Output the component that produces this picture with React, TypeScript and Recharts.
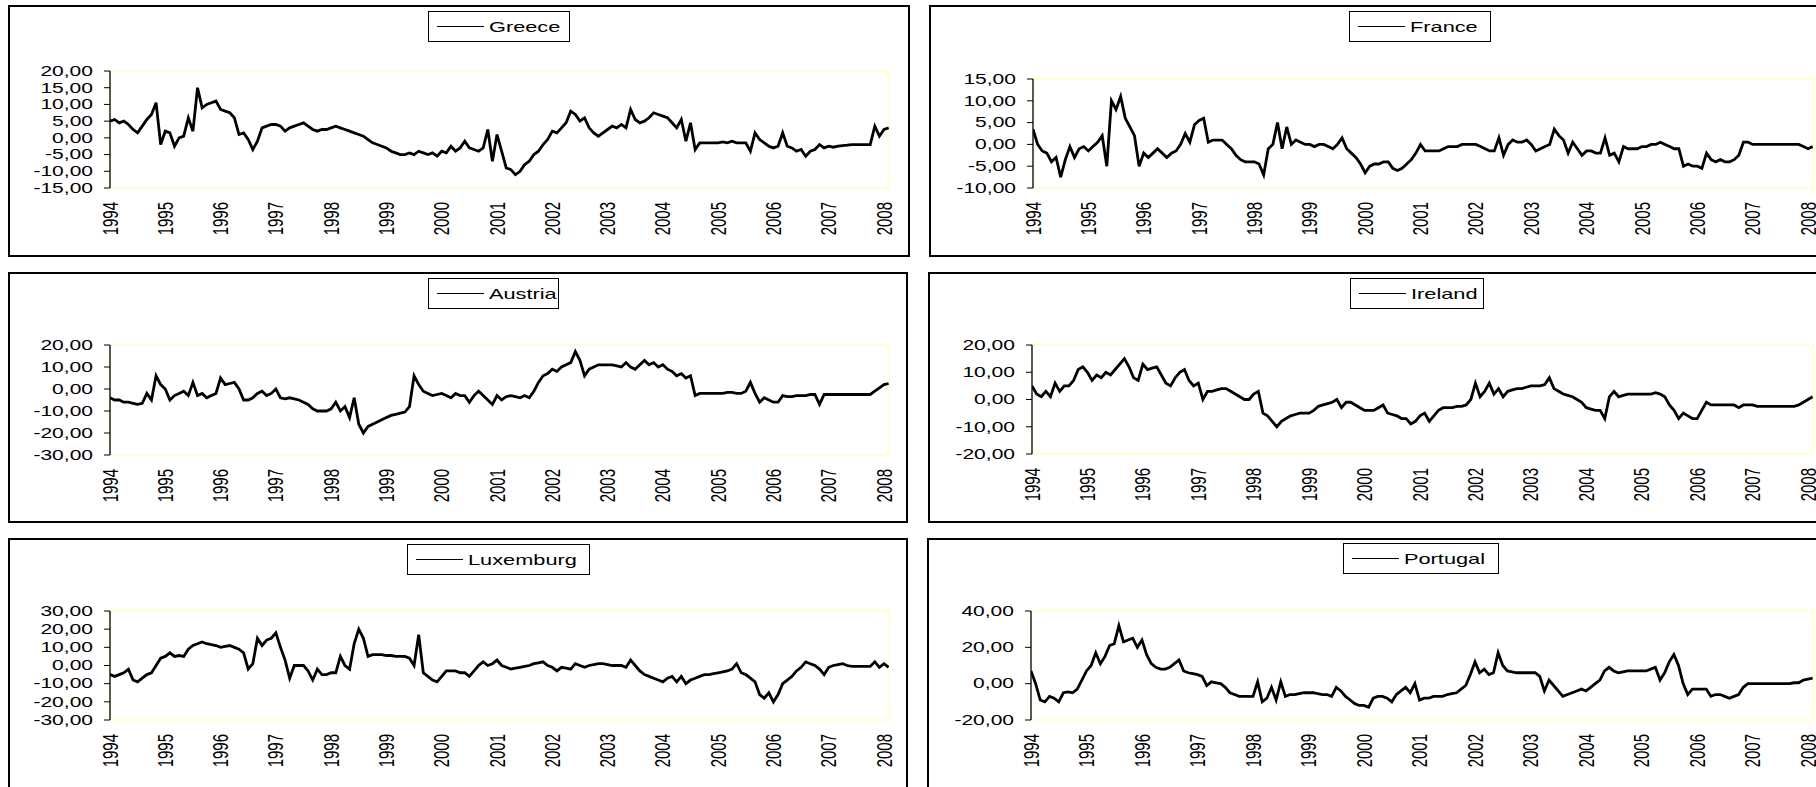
import { LineChart, Line, XAxis, YAxis, ReferenceArea, Legend } from "recharts";

const FONT = "'Liberation Sans', Arial, sans-serif";
// the source picture is stretched sideways, so its text is too
const STRETCH = 1.45;
const START_YEAR = 1994;
const X_END = 2008.09;

const yearTicks = [1994, 1995, 1996, 1997, 1998, 1999, 2000, 2001, 2002, 2003, 2004, 2005, 2006, 2007, 2008];

// monthly readings, Jan 1994 .. Feb 2008
const greece = [
  5, 5.5, 4.5, 5, 4, 2.5, 1.5, 3.5, 5.5, 7, 10.5, -2,
  2, 1.5, -2.5, 0, 0.5, 6, 2, 15, 9, 10, 10.5, 11,
  8.5, 8, 7.5, 6, 1, 1.5, -0.5, -3.5, -1, 3, 3.5, 4,
  4, 3.5, 2, 3, 3.5, 4, 4.5, 3.5, 2.5, 2, 2.5, 2.5,
  3, 3.5, 3, 2.5, 2, 1.5, 1, 0.5, -0.5, -1.5, -2, -2.5,
  -3, -4, -4.5, -5, -5, -4.5, -5, -4, -4.5, -5, -4.5, -5.5,
  -4, -4.5, -2.5, -4, -3, -1, -3, -3.5, -4, -3, 2.5, -7,
  1, -4, -9, -9.5, -11, -10, -8, -7, -5, -4, -2, -0.5,
  2, 1.5, 3, 4.5, 8, 7, 5, 6, 3, 1.5, 0.5, 1.5,
  2.5, 3.5, 3, 4, 3, 8.5, 5.5, 4.5, 5, 6, 7.5, 7,
  6.5, 6, 4.5, 3, 5.5, -1, 4.5, -3.5, -1.5, -1.5, -1.5, -1.5,
  -1.5, -1.2, -1.5, -1, -1.5, -1.5, -1.5, -4, 1.5, -0.5, -1.5, -2.5,
  -3, -2.5, 1.5, -2.5, -3, -4, -3.5, -5.5, -4, -3.5, -2, -3,
  -2.5, -2.8, -2.5, -2.3, -2.2, -2, -2, -2, -2, -2, 3.5, 0.5,
  2.5, 3,
];

const france = [
  3.5, 0, -1.5, -2, -4, -3, -7.5, -3.5, -0.5, -3, -1, -0.5,
  -1.5, -0.5, 0.5, 2, -5, 10, 8, 11, 6, 4, 2, -5,
  -2, -3, -2, -1, -2, -3, -2, -1.5, 0, 2.5, 0.5, 4.5,
  5.5, 6, 0.5, 1, 1, 1, 0, -1, -2.5, -3.5, -4, -4,
  -4, -4.5, -7, -1, 0, 5, -1, 4, 0, 1, 0.5, 0,
  0, -0.5, 0, 0, -0.5, -1, 0, 1.5, -1, -2, -3, -4.5,
  -6.5, -5, -4.5, -4.5, -4, -4, -5.5, -6, -5.5, -4.5, -3.5, -2,
  0, -1.5, -1.5, -1.5, -1.5, -1, -0.5, -0.5, -0.5, 0, 0, 0,
  0, -0.5, -1, -1.5, -1.5, 1.5, -2.5, 0, 1, 0.5, 0.5, 1,
  0, -1.5, -1, -0.5, 0, 3.5, 2, 1, -2, 0.5, -1, -2.5,
  -1.5, -1.5, -2, -2, 1.5, -2.5, -2, -4, -0.5, -1, -1, -1,
  -0.5, -0.5, 0, 0, 0.5, 0, -0.5, -1, -1, -5, -4.5, -5,
  -5, -5.5, -2, -3.5, -4, -3.5, -4, -4, -3.5, -2.5, 0.5, 0.5,
  0, 0, 0, 0, 0, 0, 0, 0, 0, 0, 0, -0.5,
  -1, -0.5,
];

const austria = [
  -4, -5, -5, -6, -6, -6.5, -7, -6.5, -2, -5, 6, 2,
  0, -5, -3, -2, -1, -3, 3, -3, -2, -4, -3, -2,
  5, 2, 2.5, 3, 0, -5, -5, -4, -2, -1, -3, -2,
  0, -4, -4.5, -4, -4.5, -5, -6, -7, -9, -10, -10, -10,
  -9, -6, -10, -8, -13, -4, -16, -20, -17, -16, -15, -14,
  -13, -12, -11.5, -11, -10.5, -8, 6, 2, -1, -2, -3, -2.5,
  -2, -3, -4, -2, -3, -3, -6, -3, -1, -3, -5, -7,
  -3, -5, -3.5, -3, -3.5, -4, -3, -4, -1, 3, 6, 7,
  9, 8, 10, 11, 12, 17, 13, 6, 9, 10, 11, 11,
  11, 11, 10.5, 10, 12, 10, 9, 11, 13, 11, 12, 10,
  11, 9, 8, 6, 7, 5, 6, -3, -2, -2, -2, -2,
  -2, -2, -1.5, -1.5, -2, -2, -1, 3, -2, -6, -4, -5,
  -6, -6, -3, -3.5, -3.5, -3, -3, -3, -2.5, -2.5, -7, -2.5,
  -2.5, -2.5, -2.5, -2.5, -2.5, -2.5, -2.5, -2.5, -2.5, -2.5, -1, 0.5,
  2, 2.5,
];

const ireland = [
  5, 2, 1, 3, 1, 6, 3, 5, 5, 7, 11, 12,
  10, 7, 9, 8, 10, 9, 11, 13, 15, 12, 8, 7,
  13, 11, 11.5, 12, 9, 6, 5, 8, 10, 11, 7, 5,
  6, 0, 3, 3, 3.5, 4, 4, 3, 2, 1, 0, 0,
  2, 3, -5, -6, -8, -10, -8, -7, -6, -5.5, -5, -5,
  -5, -4, -2.5, -2, -1.5, -1, 0, -3, -1, -1, -2, -3,
  -4, -4, -4, -3, -2, -5, -5.5, -6, -7, -7, -9, -8,
  -6, -5, -8, -6, -4, -3, -3, -3, -2.5, -2.5, -2, 0,
  6, 1, 3, 6, 2, 4, 1, 3, 3.5, 4, 4, 4.5,
  5, 5, 5, 5.5, 8, 4, 3, 2, 1.5, 1, 0, -1,
  -3, -3.5, -4, -4, -7, 1, 3, 1, 1.5, 2, 2, 2,
  2, 2, 2, 2.5, 2, 1, -2, -4, -7, -5, -6, -7,
  -7, -4, -1, -2, -2, -2, -2, -2, -2, -3, -2, -2,
  -2, -2.5, -2.5, -2.5, -2.5, -2.5, -2.5, -2.5, -2.5, -2.5, -2, -1,
  0, 1,
];

const luxemburg = [
  -5, -6, -5, -4, -2, -8, -9, -7, -5, -4, 0, 4,
  5, 7, 5, 5.5, 5, 9, 11, 12, 13, 12, 11.5, 11,
  10, 10.5, 11, 10, 9, 7, -2, 1, 15, 11, 14, 15,
  18, 10, 3, -7, 0, 0, 0, -3, -8, -2, -5, -5,
  -4, -4, 5, 0, -2, 12, 20, 15, 5, 6, 6, 6,
  5.5, 5.5, 5, 5, 5, 4, 0, 17, -4, -6, -8, -9,
  -6, -3, -3, -3, -4, -4, -6, -3, 0, 2, 0, 1,
  3, 0, -1, -2, -1.5, -1, -0.5, 0, 1, 1.5, 2, 0,
  -1, -3, -1, -1.5, -2, 1, 0, -1, 0, 0.5, 1, 1,
  0.5, 0, 0, 0, -1, 3, 0, -3, -5, -6, -7, -8,
  -9, -7, -6, -9, -6, -10, -8, -7, -6, -5, -5, -4.5,
  -4, -3.5, -3, -2, 1, -4, -5, -7, -9, -16, -18, -15,
  -20, -16, -10, -8, -6, -3, -1, 2, 1, 0, -2, -5,
  -1, 0, 0.5, 1, 0, -0.5, -0.5, -0.5, -0.5, -0.5, 2, -1,
  1, -1,
];

const portugal = [
  7, 0, -9, -10, -7, -8, -10, -5, -4.5, -5, -3, 2,
  7, 10, 17, 11, 15, 21, 22, 32, 23, 24, 25, 20,
  24, 16, 11, 9, 8, 8, 9, 11, 13, 7, 6, 5.5,
  5, 4, -1, 1, 0.5, 0, -2, -5, -6, -7, -7, -7,
  -7, 1, -10, -8, -2, -9, 1, -7, -6, -6, -5.5, -5,
  -5, -5, -5.5, -6, -6, -7, -2, -4, -7, -9, -11, -12,
  -12, -13, -8, -7, -7, -8, -10, -6, -4, -2, -5, 0,
  -9, -8, -8, -7, -7, -7, -6, -5.5, -5, -3, -1, 5,
  12, 6, 8, 5, 6, 17, 10, 7, 6.5, 6, 6, 6,
  6, 6, 4, -4, 2, -1, -4, -7, -6, -5, -4, -3,
  -4, -2, 0, 2, 7, 9, 7, 6, 6.5, 7, 7, 7,
  7, 7, 8, 9, 2, 6, 12, 16, 10, 0, -6, -3,
  -3, -3, -3, -7, -6, -6, -7, -8, -7, -6, -2, 0,
  0, 0, 0, 0, 0, 0, 0, 0, 0, 0.5, 0.5, 2,
  2.5, 3,
];

const greeceTicks = [-15, -10, -5, 0, 5, 10, 15, 20];
const franceTicks = [-10, -5, 0, 5, 10, 15];
const austriaTicks = [-30, -20, -10, 0, 10, 20];
const irelandTicks = [-20, -10, 0, 10, 20];
const luxemburgTicks = [-30, -20, -10, 0, 10, 20, 30];
const portugalTicks = [-20, 0, 20, 40];

const Y_AXIS_W = 90;
const X_AXIS_H = 55;

// box: left, top, width, height; plot: left, top, right, bottom; legend: left, top, width
const panels = [
  { name: "Greece", values: greece, yTicks: greeceTicks, box: [8, 5, 902, 252], plot: [110, 71, 889, 188], legend: [428, 11, 142] },
  { name: "France", values: france, yTicks: franceTicks, box: [929, 5, 900, 252], plot: [1033, 79, 1813, 188], legend: [1349, 11, 142] },
  { name: "Austria", values: austria, yTicks: austriaTicks, box: [8, 272, 900, 251], plot: [110, 345, 889, 455], legend: [428, 278, 131] },
  { name: "Ireland", values: ireland, yTicks: irelandTicks, box: [928, 272, 900, 251], plot: [1032, 345, 1813, 454], legend: [1350, 278, 134] },
  { name: "Luxemburg", values: luxemburg, yTicks: luxemburgTicks, box: [8, 538, 900, 262], plot: [110, 611, 889, 720], legend: [407, 544, 183] },
  { name: "Portugal", values: portugal, yTicks: portugalTicks, box: [927, 538, 900, 262], plot: [1031, 611, 1813, 720], legend: [1343, 543, 156] },
];

const fmt = (v: number) => v.toFixed(2).replace(".", ",");

const YTick = ({ x, y, payload }: any) => (
  <text
    transform={`translate(${x},${y}) scale(${STRETCH},1)`}
    textAnchor="end"
    dominantBaseline="central"
    fontSize={14.5}
    fontFamily={FONT}
    fill="#000"
  >
    {fmt(payload.value)}
  </text>
);

const XTick = ({ x, y, payload }: any) => (
  <g transform={`translate(${x},${y}) scale(${STRETCH},1)`}>
    <text transform="rotate(-90)" textAnchor="end" dominantBaseline="central" fontSize={15} fontFamily={FONT} fill="#000">
      {payload.value}
    </text>
  </g>
);

const LegendBox = ({ name, width }: { name: string; width: number }) => (
  <div
    style={{
      width,
      height: 31,
      boxSizing: "border-box",
      border: "1px solid #000",
      background: "#fff",
      display: "flex",
      alignItems: "center",
      fontFamily: FONT,
      fontSize: 15,
      color: "#000",
    }}
  >
    <span style={{ display: "block", width: 47, borderTop: "1.5px solid #000", marginLeft: 8, marginRight: 5 }} />
    <span style={{ display: "inline-block", transform: `scaleX(${STRETCH})`, transformOrigin: "0 50%", whiteSpace: "nowrap" }}>
      {name}
    </span>
  </div>
);

const Panel = ({ p }: { p: (typeof panels)[number] }) => {
  const [bl, bt, bw, bh] = p.box;
  const cl = bl + 2;
  const ct = bt + 2;
  const cw = bw - 4;
  const ch = bh - 4;
  const [pl, pt, pr, pb] = p.plot;
  const margin = {
    left: pl - cl - Y_AXIS_W,
    right: cl + cw - pr,
    top: pt - ct,
    bottom: ct + ch - pb - X_AXIS_H,
  };
  const rows = p.values.map((v, i) => ({ t: START_YEAR + i / 12, v }));
  const yMin = p.yTicks[0];
  const yMax = p.yTicks[p.yTicks.length - 1];
  const [ll, lt, lw] = p.legend;

  return (
    <div
      style={{
        position: "absolute",
        left: bl,
        top: bt,
        width: bw,
        height: bh,
        border: "2px solid #000",
        boxSizing: "border-box",
        background: "#fff",
      }}
    >
      <LineChart width={cw} height={ch} data={rows} margin={margin}>
        <XAxis
          dataKey="t"
          type="number"
          domain={[START_YEAR, X_END]}
          ticks={yearTicks}
          interval={0}
          axisLine={false}
          tickLine={false}
          tickSize={0}
          tickMargin={14}
          height={X_AXIS_H}
          tick={(props: any) => <XTick {...props} />}
          allowDataOverflow
        />
        <YAxis
          type="number"
          domain={[yMin, yMax]}
          ticks={p.yTicks}
          interval={0}
          width={Y_AXIS_W}
          stroke="#000"
          axisLine={{ stroke: "#000", strokeWidth: 1.3 }}
          tickLine={{ stroke: "#000" }}
          tickSize={6}
          tickMargin={11}
          tick={(props: any) => <YTick {...props} />}
          allowDataOverflow
        />
        <ReferenceArea x1={START_YEAR} x2={X_END} y1={yMin} y2={yMax} fill="none" stroke="#ffffc0" strokeWidth={1.5} />
        <Line
          type="linear"
          dataKey="v"
          name={p.name}
          stroke="#000"
          strokeWidth={2.8}
          dot={false}
          activeDot={false}
          isAnimationActive={false}
        />
        <Legend
          layout="vertical"
          align="center"
          verticalAlign="middle"
          wrapperStyle={{ left: ll - cl, top: lt - ct, width: lw }}
          content={() => <LegendBox name={p.name} width={lw} />}
        />
      </LineChart>
    </div>
  );
};

const App = () => (
  <div
    style={{
      position: "fixed",
      left: 0,
      top: 0,
      width: 1816,
      height: 787,
      overflow: "hidden",
      background: "#fff",
    }}
  >
    {panels.map((p) => (
      <Panel key={p.name} p={p} />
    ))}
  </div>
);

export default App;
